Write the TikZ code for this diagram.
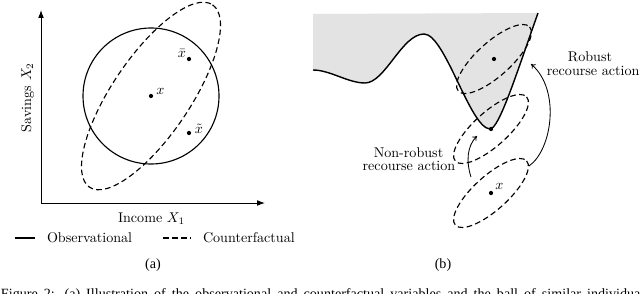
\documentclass[tikz,border=0pt]{standalone}
\usepackage{fontspec}
\newfontfamily\capfont{Liberation Serif}
\usetikzlibrary{arrows.meta}
\definecolor{fillgray}{gray}{0.89}
\begin{document}
\begin{tikzpicture}[x=0.709pt,y=-0.709pt,
  every node/.style={inner sep=0pt, outer sep=0pt},
  dot/.style={circle, fill=black, inner sep=0pt, minimum size=3pt},
  dsh/.style={line width=0.8pt, dash pattern=on 4pt off 2.4pt},
  sol/.style={line width=0.8pt},
  curvestyle/.style={line width=1pt},
  axis/.style={line width=0.7pt, {Latex[length=5.5pt,width=4pt]}-{Latex[length=5.5pt,width=4pt]}},
  act/.style={line width=0.6pt, -{To[length=3pt,width=4pt]}},
]
\useasboundingbox (0,0) rectangle (640,293);
\clip (0,0) rectangle (640,293);

% ---------------- panel (a)
\coordinate (Ytop) at (41,10);
\coordinate (O) at (41,203);
\coordinate (Xend) at (265,203);
\draw[axis] (Ytop) -- (O) -- (Xend);

\coordinate (C) at (151,96);
\draw[sol] (C) circle[radius=68];
\draw[dsh, rotate around={56:(C)}] (C) ellipse[x radius=110, y radius=39];

\node[dot] (xa) at (151,96) {};
\node[dot] (xbar) at (189,59) {};
\node[dot] (xtil) at (189,133) {};
\node[anchor=base] (xalab) at (160.5,94) {$x$};
\node[anchor=base] (xbarlab) at (182,57.5) {$\bar{x}$};
\node[anchor=base] (xtillab) at (199,133.5) {$\tilde{x}$};

\node[anchor=base] (inc) at (151.5,222) {Income $X_1$};
\node[rotate=90, anchor=base] (sav) at (31,97.5) {Savings $X_2$};

\coordinate (l1a) at (15,238);
\coordinate (l1b) at (35,238);
\draw[sol] (l1a) -- (l1b);
\node[anchor=base west] (obs) at (47,242) {Observational};
\coordinate (l2a) at (163,238);
\coordinate (l2b) at (191,238);
\draw[dsh] (l2a) -- (l2b);
\node[anchor=base west] (cf) at (203,242) {Counterfactual};

\node[font=\capfont] (pa) at (153,265) {(a)};

% ---------------- panel (b)
\fill[fillgray] (313,14) -- (313,70)
  .. controls (330,70) and (348,83) .. (365,83)
  .. controls (385,83) and (402,34) .. (424,34)
  .. controls (445,34) and (470,128) .. (490,129)
  .. controls (499,129) and (516,75) .. (538,13) -- cycle;
\draw[curvestyle] (313,70)
  .. controls (330,70) and (348,83) .. (365,83)
  .. controls (385,83) and (402,34) .. (424,34)
  .. controls (445,34) and (470,128) .. (490,129)
  .. controls (499,129) and (516,75) .. (538,13);

\coordinate (E1) at (494,59);
\coordinate (E2) at (491,129);
\coordinate (E3) at (491,193);
\draw[dsh, rotate around={42:(E1)}] (E1) ellipse[x radius=48, y radius=17];
\draw[dsh, rotate around={42:(E2)}] (E2) ellipse[x radius=48, y radius=17];
\draw[dsh, rotate around={42:(E3)}] (E3) ellipse[x radius=48, y radius=17];
\node[dot] (d1) at (E1) {};
\node[dot] (d2) at (E2) {};
\node[dot] (d3) at (E3) {};
\node[anchor=base] (bx) at (499.5,189) {$x$};

\coordinate (nrs) at (471,177);
\coordinate (nre) at (477,136);
\draw[act] (nrs) .. controls (466,162) and (467,146) .. (nre);
\coordinate (rs) at (529,166);
\coordinate (re) at (531,64);
\draw[act] (rs) .. controls (552,150) and (561,90) .. (re);

\node[anchor=base] (rob1) at (590,62) {Robust};
\node[anchor=base east] (rob2) at (639.5,75) {recourse action};
\node[anchor=base] (nrb1) at (408.5,157) {Non-robust};
\node[anchor=base] (nrb2) at (409,170) {recourse action};

\node[font=\capfont] (pb) at (443,265) {(b)};

% ---------------- caption (cut off at the bottom, as in the reference)
\node[anchor=base west, font=\capfont] (cap) at (1,298) {\makebox[460pt][s]{Figure 2: (a) Illustration of the observational and counterfactual variables and the ball of similar individuals}};
\end{tikzpicture}
\end{document}
